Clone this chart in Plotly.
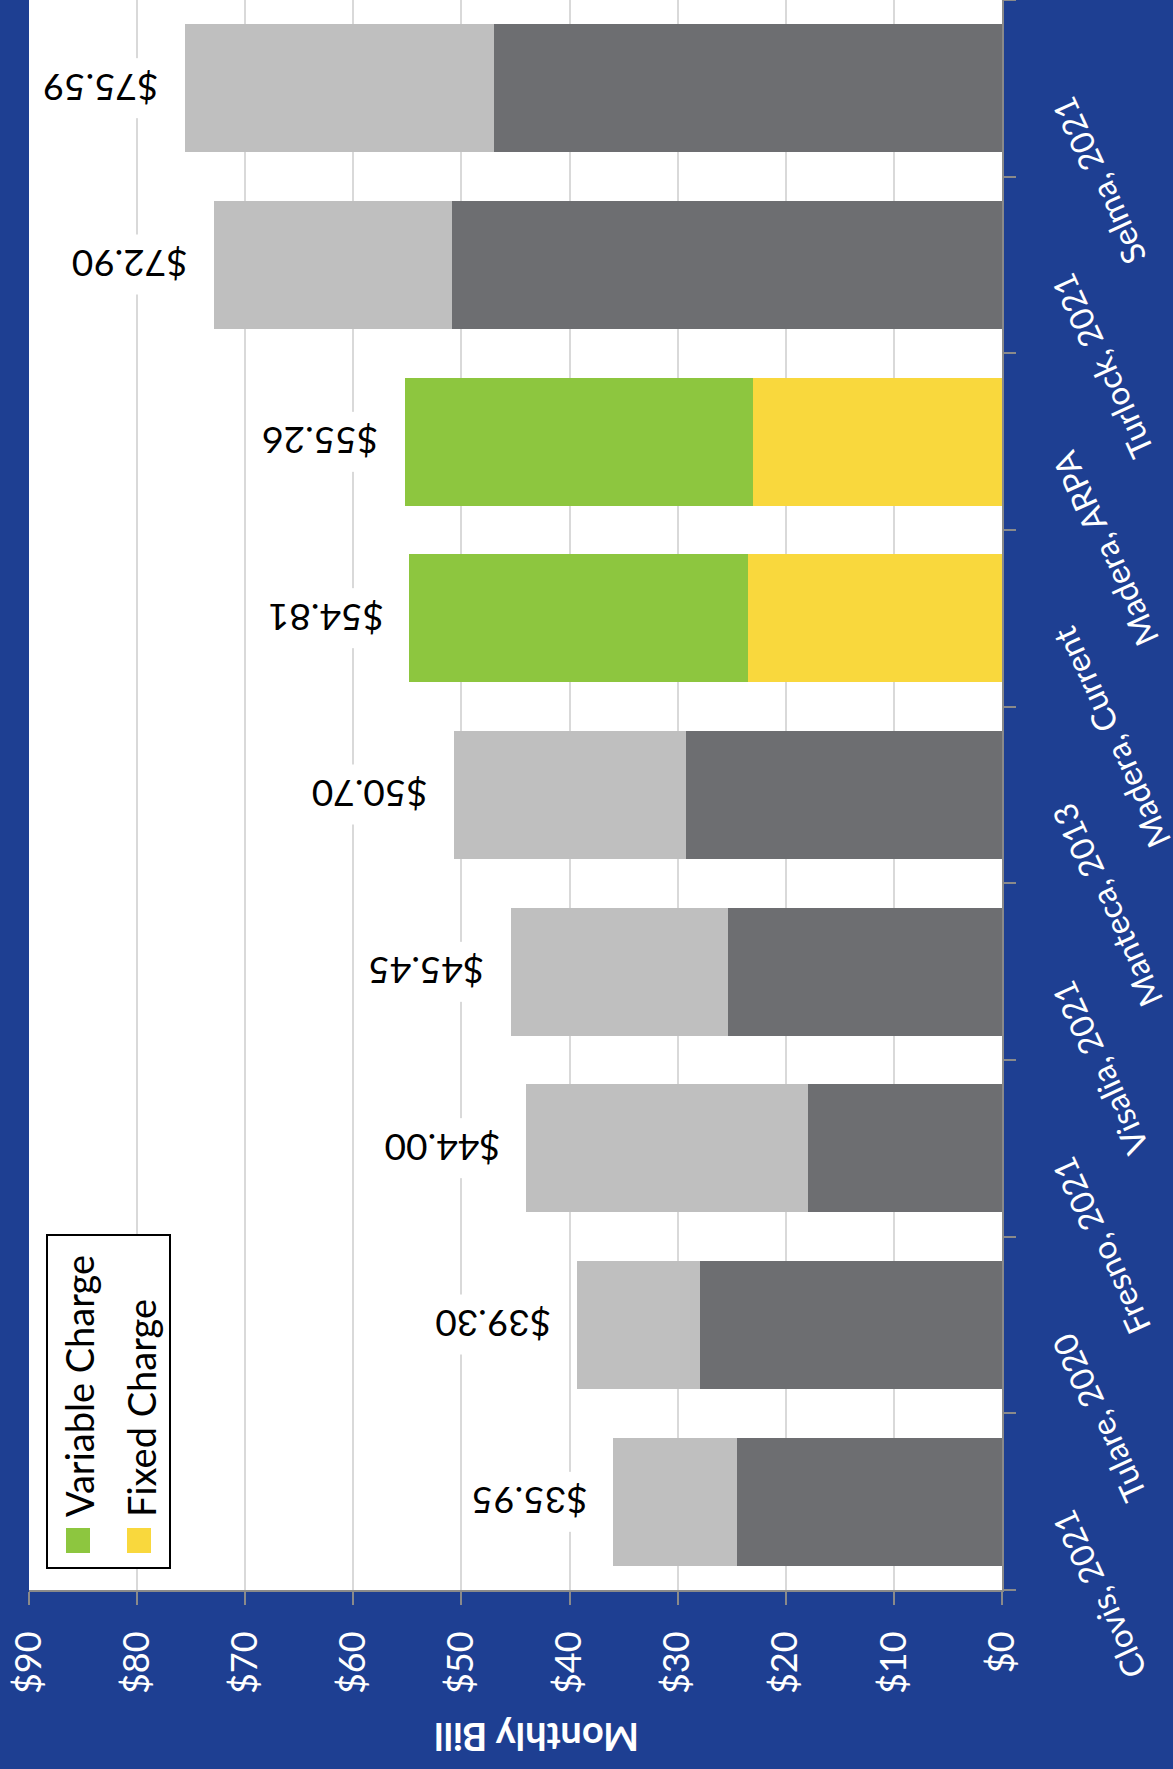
import plotly.graph_objects as go

# Monthly bill comparison by city (stacked: fixed + variable charge)
cities = ["Clovis, 2021", "Tulare, 2020", "Fresno, 2021", "Visalia, 2021",
          "Manteca, 2013", "Madera, Current", "Madera, ARPA", "Turlock, 2021",
          "Selma, 2021"]
fixed_charge = [24.50, 27.90, 17.90, 25.30, 29.25, 23.50, 23.00, 50.85, 47.00]
variable_charge = [11.45, 11.40, 26.10, 20.15, 21.45, 31.31, 32.26, 22.05, 28.59]
total_bill = [35.95, 39.30, 44.00, 45.45, 50.70, 54.81, 55.26, 72.90, 75.59]
highlight = ["Madera, Current", "Madera, ARPA"]

tick_values = [0, 10, 20, 30, 40, 50, 60, 70, 80, 90]
tick_labels = ["$0", "$10", "$20", "$30", "$40", "$50", "$60", "$70", "$80", "$90"]

W, H = 1173, 1769
ML, MR, MT, MB = 29, 171, 0, 179
PW, PH = W - ML - MR, H - MT - MB

BLUE = "#1E3F92"
DARK_GRAY = "#6D6E71"
LIGHT_GRAY = "#BFBFBF"
YELLOW = "#F9D83D"
GREEN = "#8DC63F"
AXIS_GRAY = "#8A8A8A"
FONT = "Lato"


def px_x(p):
    return (p - ML) / PW


def px_y(p):
    return (MT + PH - p) / PH


fixed_colors = [YELLOW if c in highlight else DARK_GRAY for c in cities]
variable_colors = [GREEN if c in highlight else LIGHT_GRAY for c in cities]

fig = go.Figure()
fig.add_trace(go.Bar(
    y=cities, x=fixed_charge, orientation="h", name="Fixed Charge",
    marker=dict(color=fixed_colors, line=dict(width=0)), showlegend=False,
))
fig.add_trace(go.Bar(
    y=cities, x=variable_charge, orientation="h", name="Variable Charge",
    marker=dict(color=variable_colors, line=dict(width=0)), showlegend=False,
))

annotations = []

# total bill labels, upside down, on white boxes
for c, t in zip(cities, total_bill):
    annotations.append(dict(
        x=t, y=c, xref="x", yref="y", text=f"${t:.2f}", showarrow=False,
        textangle=180, xanchor="right", yanchor="middle", xshift=-18,
        bgcolor="white", borderpad=7,
        font=dict(family=FONT, size=37, color="black"),
    ))

# category labels on the right side, slanted
for c in cities:
    annotations.append(dict(
        x=px_x(1040), y=c, xref="paper", yref="y", text=c, showarrow=False,
        textangle=-114.5, xanchor="left", yanchor="top",
        font=dict(family=FONT, size=33, color="white"),
    ))

# value axis title
annotations.append(dict(
    x=px_x(537), y=px_y(1738), xref="paper", yref="paper", text="<b>Monthly Bill</b>",
    showarrow=False, textangle=180, xanchor="center", yanchor="middle",
    font=dict(family=FONT, size=38, color="white"),
))

# legend text
annotations.append(dict(
    x=px_x(79), y=px_y(1519), xref="paper", yref="paper", text="Variable Charge",
    showarrow=False, textangle=-90, xanchor="center", yanchor="bottom",
    font=dict(family=FONT, size=38, color="black"),
))
annotations.append(dict(
    x=px_x(141), y=px_y(1519), xref="paper", yref="paper", text="Fixed Charge",
    showarrow=False, textangle=-90, xanchor="center", yanchor="bottom",
    font=dict(family=FONT, size=38, color="black"),
))

shapes = [
    # legend frame
    dict(type="rect", xref="paper", yref="paper",
         x0=px_x(47), x1=px_x(170), y0=px_y(1568), y1=px_y(1235),
         fillcolor="white", line=dict(color="black", width=2), layer="above"),
    # legend swatches
    dict(type="rect", xref="paper", yref="paper",
         x0=px_x(66), x1=px_x(90), y0=px_y(1553), y1=px_y(1528),
         fillcolor=GREEN, line=dict(width=0), layer="above"),
    dict(type="rect", xref="paper", yref="paper",
         x0=px_x(127), x1=px_x(151), y0=px_y(1553), y1=px_y(1528),
         fillcolor=YELLOW, line=dict(width=0), layer="above"),
]

fig.update_layout(
    width=W, height=H, autosize=False,
    margin=dict(l=ML, r=MR, t=MT, b=MB, pad=0),
    paper_bgcolor=BLUE, plot_bgcolor="white",
    barmode="stack", bargap=0.276,
    annotations=annotations, shapes=shapes,
    font=dict(family=FONT),
)

fig.update_xaxes(
    range=[90, 0], tickvals=tick_values, ticktext=tick_labels,
    tickangle=-90, tickfont=dict(family=FONT, size=36, color="white"),
    showgrid=True, gridcolor="#D9D9D9", gridwidth=1.5, zeroline=False,
    showline=True, linecolor=AXIS_GRAY, linewidth=2,
    ticks="outside", ticklen=13, tickwidth=2, tickcolor=AXIS_GRAY,
    ticklabelstandoff=12,
)

fig.update_yaxes(
    type="category", categoryorder="array", categoryarray=cities,
    range=[-0.5, len(cities) - 0.5],
    side="right", showticklabels=False, showgrid=False, zeroline=False,
    showline=True, linecolor=AXIS_GRAY, linewidth=2,
    ticks="outside", ticklen=12, tickwidth=2, tickcolor=AXIS_GRAY,
    tickson="boundaries",
)

fig.write_html("out.html")
